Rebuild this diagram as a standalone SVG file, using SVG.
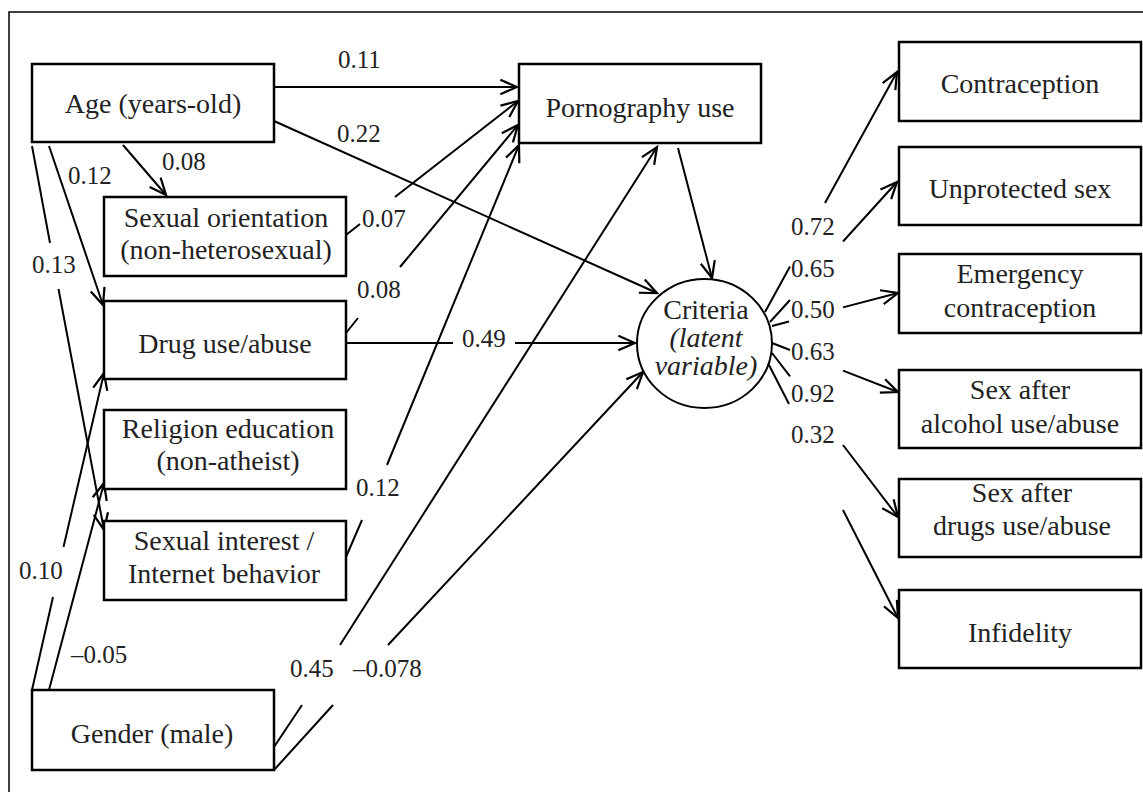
<svg xmlns="http://www.w3.org/2000/svg" width="1143" height="792" viewBox="0 0 1143 792">
<style>
.box{fill:#fff;stroke:#000;stroke-width:2.5}
.conn path{fill:none;stroke:#000;stroke-width:2}
.t{font-family:"Liberation Serif","Times New Roman",serif;font-size:28px;fill:#222;text-anchor:middle}
.it{font-style:italic}
.lbl{font-family:"Liberation Serif","Times New Roman",serif;font-size:25px;fill:#222}
.frame{fill:none;stroke:#000;stroke-width:1.5}
</style>
<defs>
<marker id="arr" markerUnits="userSpaceOnUse" markerWidth="20" markerHeight="20" viewBox="-16 -8 18 16" refX="0" refY="0" orient="auto">
<path d="M-15,-6.5 L0,0 L-15,6.5" fill="none" stroke="#000" stroke-width="2"/>
</marker>
</defs>
<rect x="0" y="0" width="1143" height="792" fill="#fff"/>
<path class="frame" d="M9,792 V12 H1143"/>

<g class="conn" id="connectors">
<path d="M274,87 L517,87" marker-end="url(#arr)"/>
<path d="M274,121 L657,293" marker-end="url(#arr)"/>
<path d="M123,145 L166,195" marker-end="url(#arr)"/>
<path d="M49,146 L103,305" marker-end="url(#arr)"/>
<path d="M32,146 L50,243 M58.5,289 L104,530" marker-end="url(#arr)"/>
<path d="M32,690 L53,597 M63.5,547 L104,373" marker-end="url(#arr)"/>
<path d="M49,690 L104,483" marker-end="url(#arr)"/>
<path d="M346,235 L360,224 M395,197 L518,101" marker-end="url(#arr)"/>
<path d="M346,333 L358,318 M400,267 L518,125" marker-end="url(#arr)"/>
<path d="M346,557 L362,520 M387,465 L519,145" marker-end="url(#arr)"/>
<path d="M346,343 L453,343 M515,343 L635,343" marker-end="url(#arr)"/>
<path d="M274,747 L302,705 M340,645 L657,147" marker-end="url(#arr)"/>
<path d="M274,770 L333,705 M388,645 L643,372" marker-end="url(#arr)"/>
<path d="M678,148 L712,278" marker-end="url(#arr)"/>
<path d="M765,312 L790,266.5 M825,203 L897,72" marker-end="url(#arr)"/>
<path d="M770,322 L790,300 M843,241.5 L897,182" marker-end="url(#arr)"/>
<path d="M772,326 L789,321.5 M843,307.4 L898,293" marker-end="url(#arr)"/>
<path d="M772,343 L790,350 M843,370.6 L898,392" marker-end="url(#arr)"/>
<path d="M772,353 L790,376.4 M843,445 L898,517" marker-end="url(#arr)"/>
<path d="M769,365 L789,404 M843,510 L898,618" marker-end="url(#arr)"/>
</g>

<g id="labels">
<text class="lbl" x="338" y="68">0.11</text>
<text class="lbl" x="337" y="142">0.22</text>
<text class="lbl" x="162" y="170">0.08</text>
<text class="lbl" x="68" y="184">0.12</text>
<text class="lbl" x="32" y="273">0.13</text>
<text class="lbl" x="362" y="227">0.07</text>
<text class="lbl" x="357" y="298">0.08</text>
<text class="lbl" x="462" y="347">0.49</text>
<text class="lbl" x="356" y="496">0.12</text>
<text class="lbl" x="19" y="579">0.10</text>
<text class="lbl" x="71" y="663">–0.05</text>
<text class="lbl" x="290" y="677">0.45</text>
<text class="lbl" x="353" y="677">–0.078</text>
<text class="lbl" x="791" y="235">0.72</text>
<text class="lbl" x="791" y="277">0.65</text>
<text class="lbl" x="791" y="318">0.50</text>
<text class="lbl" x="791" y="360">0.63</text>
<text class="lbl" x="791" y="402">0.92</text>
<text class="lbl" x="791" y="443">0.32</text>
</g>

<g id="age"><rect class="box" x="32" y="64" width="242" height="78"/><text class="t" x="153" y="113">Age (years-old)</text></g>
<g id="sexual-orientation"><rect class="box" x="104" y="197" width="242" height="79"/><text class="t" x="226" y="227">Sexual orientation</text><text class="t" x="226" y="259">(non-heterosexual)</text></g>
<g id="drug-use"><rect class="box" x="104" y="301" width="242" height="78"/><text class="t" x="225" y="353">Drug use/abuse</text></g>
<g id="religion"><rect class="box" x="104" y="410" width="242" height="79"/><text class="t" x="228" y="438">Religion education</text><text class="t" x="228" y="470">(non-atheist)</text></g>
<g id="sexual-interest"><rect class="box" x="104" y="521" width="242" height="79"/><text class="t" x="224" y="550">Sexual interest /</text><text class="t" x="224" y="583">Internet behavior</text></g>
<g id="gender"><rect class="box" x="32" y="690" width="242" height="80"/><text class="t" x="152" y="743">Gender (male)</text></g>
<g id="pornography"><rect class="box" x="519" y="64" width="242" height="79"/><text class="t" x="640" y="117">Pornography use</text></g>
<g id="criteria"><ellipse cx="704.5" cy="343.5" rx="67.5" ry="64.5" fill="#fff" stroke="#000" stroke-width="2"/><text class="t" x="706" y="319">Criteria</text><text class="t it" x="706" y="347">(latent</text><text class="t it" x="706" y="375">variable)</text></g>
<g id="contraception"><rect class="box" x="899" y="42" width="242" height="79"/><text class="t" x="1020" y="93">Contraception</text></g>
<g id="unprotected"><rect class="box" x="899" y="147" width="242" height="78"/><text class="t" x="1020" y="198">Unprotected sex</text></g>
<g id="emergency"><rect class="box" x="899" y="254" width="242" height="79"/><text class="t" x="1020" y="283">Emergency</text><text class="t" x="1020" y="317">contraception</text></g>
<g id="alcohol"><rect class="box" x="899" y="370" width="242" height="78"/><text class="t" x="1020" y="399">Sex after</text><text class="t" x="1020" y="433">alcohol use/abuse</text></g>
<g id="drugs"><rect class="box" x="899" y="479" width="242" height="78"/><text class="t" x="1022" y="502">Sex after</text><text class="t" x="1022" y="535">drugs use/abuse</text></g>
<g id="infidelity"><rect class="box" x="899" y="590" width="242" height="78"/><text class="t" x="1020" y="642">Infidelity</text></g>
</svg>
